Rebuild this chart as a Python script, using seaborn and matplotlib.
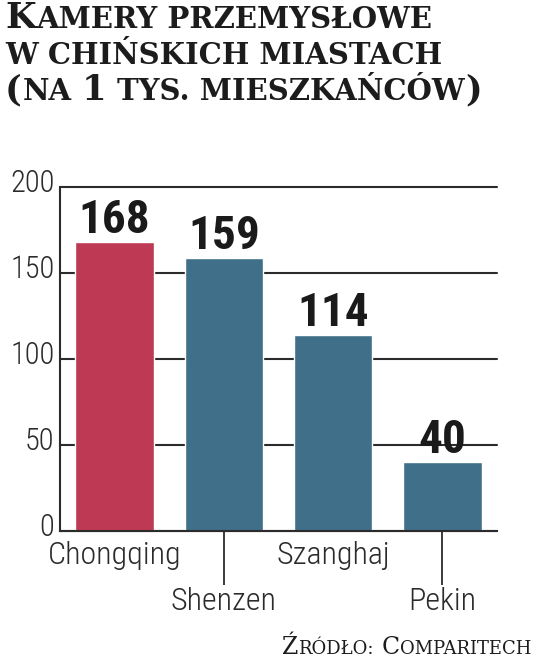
import matplotlib
matplotlib.use("Agg")
import matplotlib.pyplot as plt
import matplotlib.transforms as mtransforms
import seaborn as sns

# data
cities = ["Chongqing", "Shenzen", "Szanghaj", "Pekin"]
cameras = [168, 159, 114, 40]
bar_colors = ["#BE3A54", "#3F6F89", "#3F6F89", "#3F6F89"]
y_ticks = [0, 50, 100, 150, 200]

# small caps: "big" = real capital, "small" = small capital, "gap" = space
title_lines = [
    [("K", "big"), ("AMERY PRZEMYSŁOWE", "small")],
    [("W CHIŃSKICH MIASTACH", "small")],
    [("(", "big"), ("NA", "small"), (" ", "gap"), ("1", "big"), (" ", "gap"),
     ("TYS. MIESZKAŃCÓW", "small"), (")", "big")],
]
source_parts = [("Ź", "big"), ("RÓDŁO:", "small"), (" ", "gap"),
                ("C", "big"), ("OMPARITECH", "small")]

W, H = 536, 662
INK = "#2b2b2b"
NARROW = ["Roboto Condensed", "DejaVu Sans"]

sns.set_style("white")
plt.rcParams["font.family"] = NARROW
plt.rcParams["font.stretch"] = "condensed"

fig = plt.figure(figsize=(W / 100, H / 100), dpi=100)
ax = fig.add_axes([60 / W, 131 / H, 437 / W, 344 / H])

sns.barplot(x=cities, y=cameras, hue=cities, palette=bar_colors, saturation=1,
            width=0.72, legend=False, ax=ax, zorder=2)

ax.set_xlim(-0.5, 3.5)
ax.set_ylim(0, 200)
ax.set_yticks(y_ticks)
ax.set_xlabel("")
ax.set_ylabel("")
ax.yaxis.grid(True, color=INK, linewidth=1.5)
ax.set_axisbelow(True)
for gl in ax.get_ygridlines():
    gl.set_clip_on(False)
sns.despine(ax=ax)
for side in ["left", "bottom"]:
    ax.spines[side].set_color(INK)
    ax.spines[side].set_linewidth(1.5)

ax.tick_params(axis="y", length=0, pad=4, labelsize=22, labelcolor=INK)
ax.tick_params(axis="x", bottom=True, length=0, pad=7, labelsize=23, labelcolor=INK)
for lab in ax.get_xticklabels() + ax.get_yticklabels():
    lab.set_fontweight("light")

# y labels sit a little above their gridlines
lift = mtransforms.ScaledTranslation(0, 6 / 100, fig.dpi_scale_trans)
for lab in ax.get_yticklabels():
    lab.set_transform(lab.get_transform() + lift)

# staggered x labels with leader lines
for i, tick in enumerate(ax.xaxis.get_major_ticks()):
    if i % 2:
        tick.set_pad(40)
        tick.tick1line.set_visible(True)
        tick.tick1line.set_markersize(39)
        tick.tick1line.set_markeredgewidth(1.3)
        tick.tick1line.set_markeredgecolor(INK)

for cont in ax.containers:
    ax.bar_label(cont, fontsize=34, fontweight="bold", color="#1a1a1a", padding=0)


def draw_parts(parts, x0, y_base, big, small, gap, weight, family="DejaVu Serif"):
    renderer = fig.canvas.get_renderer()
    x = x0
    texts = []
    for txt, kind in parts:
        if kind == "gap":
            x += gap
            continue
        t = fig.text(x, H - y_base, txt, transform=mtransforms.IdentityTransform(),
                     fontsize=big if kind == "big" else small, family=family,
                     fontstretch="normal", fontweight=weight, color="#1c1c1c",
                     ha="left", va="baseline")
        x = t.get_window_extent(renderer).x1 + 0.5
        texts.append(t)
    return texts, x


for n, line in enumerate(title_lines):
    draw_parts(line, 5, 28 + 36 * n, 25.5, 21, 10, "bold")

src_texts, x_end = draw_parts(source_parts, 282, 654, 17, 13, 7, "normal")
shift = 532 - x_end
for t in src_texts:
    t.set_x(t.get_position()[0] + shift)

fig.savefig("out.png", dpi=100)
